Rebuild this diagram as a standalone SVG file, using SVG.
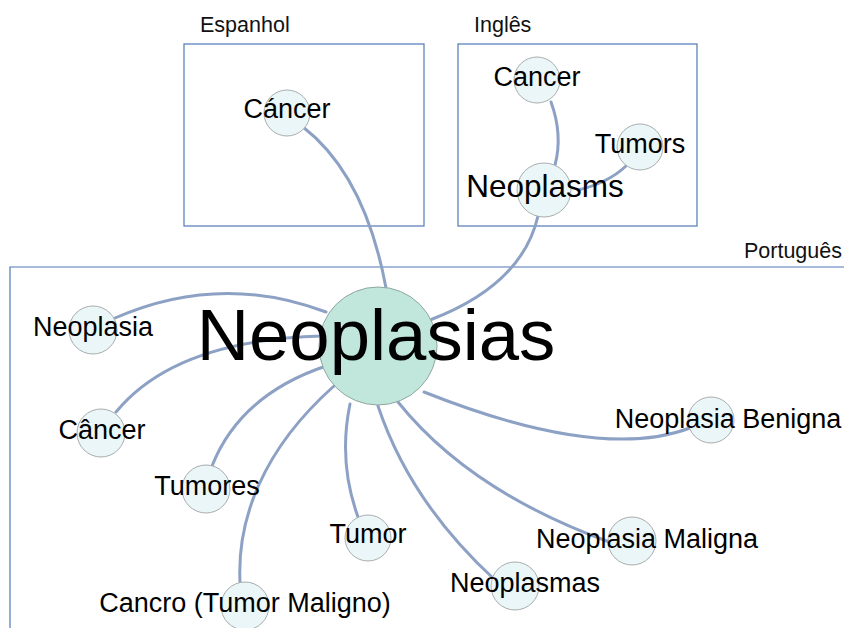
<svg xmlns="http://www.w3.org/2000/svg" width="844" height="628" viewBox="0 0 844 628">
<style>
.box{fill:none;stroke:#4f78b5;stroke-width:1.2}
.lbl{font-family:"Liberation Sans",Arial,sans-serif;font-size:21.5px;fill:#111}
.e{fill:none;stroke:#8da1c5;stroke-width:3;stroke-linecap:round}
.n{fill:#eaf6f8;stroke:#a9adad;stroke-width:1}
.big{fill:#c1e6dc;stroke:#8fa7a0;stroke-width:1}
.t{font-family:"Liberation Sans",Arial,sans-serif;font-size:27px;fill:#000;text-anchor:middle}
</style>
<rect width="844" height="628" fill="#fff"/>
<g id="groups">
<rect class="box" x="184" y="44" width="240" height="182"/>
<text class="lbl" x="200" y="32">Espanhol</text>
<rect class="box" x="458" y="44" width="239" height="182"/>
<text class="lbl" x="474" y="32">Inglês</text>
<path class="box" d="M10 628 V267 H844"/>
<text class="lbl" x="842" y="258" text-anchor="end">Português</text>
</g>
<g id="connectors">
<path class="e" d="M303 127 Q365 175 386 288"/>
<path class="e" d="M551 102 Q563 135 555 165"/>
<path class="e" d="M626 166 Q608 183 578 190"/>
<path class="e" d="M538 216 Q522 285 430 320"/>
<path class="e" d="M115 318 Q220 272 326 312"/>
<path class="e" d="M116 412 Q175 340 322 336"/>
<path class="e" d="M212 466 Q240 395 326 366"/>
<path class="e" d="M240 582 C237 520 262 450 334 386"/>
<path class="e" d="M358 517 Q338 462 350 404"/>
<path class="e" d="M495 580 Q410 502 378 406"/>
<path class="e" d="M612 543 Q470 492 398 402"/>
<path class="e" d="M690 428 Q600 462 424 392"/>
</g>
<g id="es-cancer"><circle class="n" cx="287" cy="113" r="23"/><text class="t" x="287" y="118">Cáncer</text></g>
<g id="en-cancer"><circle class="n" cx="537" cy="80" r="23"/><text class="t" x="537" y="86">Cancer</text></g>
<g id="en-tumors"><circle class="n" cx="640" cy="147" r="23"/><text class="t" x="640" y="153">Tumors</text></g>
<g id="en-neoplasms"><circle class="n" cx="544" cy="190" r="27"/><text class="t" x="545" y="197" style="font-size:31.5px">Neoplasms</text></g>
<g id="pt-neoplasias"><circle class="big" cx="378" cy="346" r="59"/><text class="t" x="376" y="360" style="font-size:72.5px">Neoplasias</text></g>
<g id="pt-neoplasia"><circle class="n" cx="93" cy="330" r="24"/><text class="t" x="93" y="336">Neoplasia</text></g>
<g id="pt-cancer"><circle class="n" cx="101" cy="433" r="24"/><text class="t" x="102" y="439">Câncer</text></g>
<g id="pt-tumores"><circle class="n" cx="206" cy="489" r="24"/><text class="t" x="207" y="495">Tumores</text></g>
<g id="pt-cancro"><circle class="n" cx="245" cy="606" r="24"/><text class="t" x="245" y="612">Cancro (Tumor Maligno)</text></g>
<g id="pt-tumor"><circle class="n" cx="368" cy="538" r="23"/><text class="t" x="368" y="543">Tumor</text></g>
<g id="pt-neoplasmas"><circle class="n" cx="515" cy="586" r="24"/><text class="t" x="525" y="592">Neoplasmas</text></g>
<g id="pt-maligna"><circle class="n" cx="632" cy="541" r="24"/><text class="t" x="647" y="548">Neoplasia Maligna</text></g>
<g id="pt-benigna"><circle class="n" cx="711" cy="420" r="23"/><text class="t" x="728" y="428">Neoplasia Benigna</text></g>
</svg>
